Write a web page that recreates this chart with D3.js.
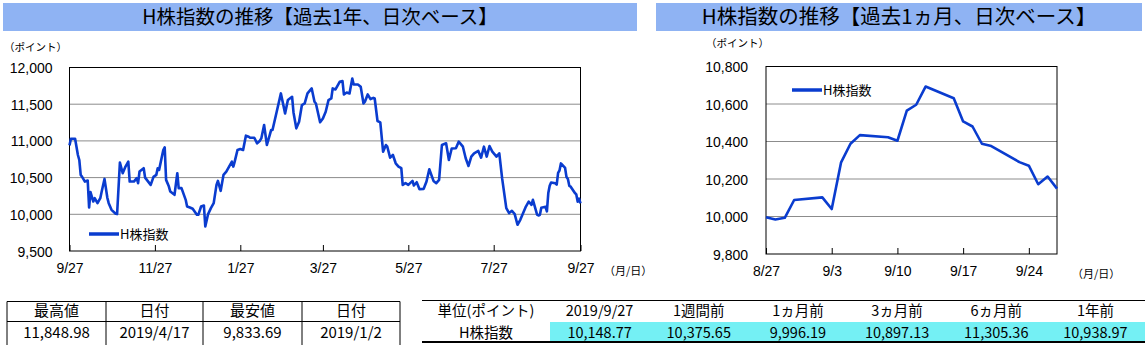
<!DOCTYPE html>
<meta charset="utf-8">
<style>
body { margin:0; background:#fff; }
svg text { font-family: "Liberation Sans", Arial, "Noto Sans CJK JP", sans-serif; fill:#000; }
.jp { font-family: "Noto Sans CJK JP", sans-serif; }
.grid line { stroke:#8c8c8c; stroke-width:1; }
.frame { fill:none; stroke:#000; stroke-width:1; }
.series { fill:none; stroke:#0a3ccf; stroke-width:2.6; stroke-linejoin:round; }
</style>
<body>
<div id="chart"></div>
<script src="https://cdn.jsdelivr.net/npm/d3@7"></script>
<script>

// ---- data ----
var yearTitle = "H株指数の推移【過去1年、日次ベース】"
var monthTitle = "H株指数の推移【過去1ヵ月、日次ベース】"
var seriesName = "H株指数"

var yearSeries = [
  ["2018-09-27",10939],["2018-09-28",11030],["2018-10-01",11030],["2018-10-03",10808],["2018-10-04",10740],
  ["2018-10-05",10537],["2018-10-06",10510],["2018-10-08",10446],["2018-10-10",10460],["2018-10-11",10092],
  ["2018-10-12",10302],["2018-10-14",10174],["2018-10-15",10220],["2018-10-17",10152],["2018-10-19",10220],
  ["2018-10-20",10310],["2018-10-22",10482],["2018-10-24",10228],["2018-10-25",10152],["2018-10-27",10061],
  ["2018-10-30",10007],["2018-10-31",10003],["2018-11-02",10704],["2018-11-04",10560],["2018-11-06",10650],
  ["2018-11-08",10718],["2018-11-09",10446],["2018-11-12",10446],["2018-11-14",10492],["2018-11-15",10424],
  ["2018-11-16",10582],["2018-11-19",10628],["2018-11-20",10500],["2018-11-24",10401],["2018-11-26",10510],
  ["2018-11-28",10537],["2018-11-29",10628],["2018-11-30",10605],["2018-12-03",10876],["2018-12-04",10913],
  ["2018-12-05",10469],["2018-12-07",10378],["2018-12-08",10310],["2018-12-11",10265],["2018-12-13",10560],
  ["2018-12-14",10356],["2018-12-16",10356],["2018-12-19",10197],["2018-12-20",10106],["2018-12-22",10092],
  ["2018-12-24",10075],["2018-12-27",9993],["2018-12-28",9993],["2018-12-30",10106],["2019-01-01",10120],
  ["2019-01-02",9834],["2019-01-04",10003],["2019-01-06",10084],["2019-01-08",10152],["2019-01-10",10401],
  ["2019-01-11",10455],["2019-01-13",10320],["2019-01-15",10537],["2019-01-17",10582],["2019-01-19",10650],
  ["2019-01-21",10718],["2019-01-22",10650],["2019-01-23",10718],["2019-01-25",10876],["2019-01-27",10890],
  ["2019-01-29",10876],["2019-01-31",11071],["2019-02-02",11057],["2019-02-03",11043],["2019-02-06",11043],
  ["2019-02-08",10967],["2019-02-10",11003],["2019-02-11",11034],["2019-02-13",11216],["2019-02-14",11080],
  ["2019-02-15",10944],["2019-02-17",11080],["2019-02-18",11148],["2019-02-19",11148],["2019-02-22",11397],
  ["2019-02-25",11647],["2019-02-28",11375],["2019-03-02",11556],["2019-03-05",11601],["2019-03-06",11388],
  ["2019-03-08",11171],["2019-03-10",11262],["2019-03-12",11488],["2019-03-14",11510],["2019-03-16",11647],
  ["2019-03-19",11715],["2019-03-21",11533],["2019-03-22",11510],["2019-03-25",11253],["2019-03-27",11305],
  ["2019-03-29",11397],["2019-03-31",11556],["2019-04-02",11578],["2019-04-03",11715],["2019-04-05",11701],
  ["2019-04-08",11805],["2019-04-10",11815],["2019-04-11",11633],["2019-04-13",11660],["2019-04-15",11646],
  ["2019-04-17",11849],["2019-04-18",11768],["2019-04-21",11768],["2019-04-23",11737],["2019-04-25",11510],
  ["2019-04-26",11533],["2019-04-28",11633],["2019-04-30",11570],["2019-05-02",11587],["2019-05-03",11578],
  ["2019-05-05",11271],["2019-05-07",11253],["2019-05-09",10853],["2019-05-11",10944],["2019-05-12",10921],
  ["2019-05-14",10772],["2019-05-16",10808],["2019-05-18",10695],["2019-05-20",10650],["2019-05-22",10628],
  ["2019-05-23",10401],["2019-05-25",10424],["2019-05-27",10401],["2019-05-30",10455],["2019-05-31",10392],
  ["2019-06-02",10437],["2019-06-04",10342],["2019-06-07",10347],["2019-06-09",10446],["2019-06-11",10614],
  ["2019-06-14",10455],["2019-06-16",10424],["2019-06-18",10469],["2019-06-20",10944],["2019-06-23",10967],
  ["2019-06-25",10740],["2019-06-27",10897],["2019-06-30",10899],["2019-07-02",10989],["2019-07-05",10921],
  ["2019-07-07",10763],["2019-07-09",10659],["2019-07-11",10786],["2019-07-13",10831],["2019-07-16",10863],
  ["2019-07-18",10772],["2019-07-20",10921],["2019-07-22",10786],["2019-07-24",10930],["2019-07-26",10853],
  ["2019-07-29",10786],["2019-07-31",10831],["2019-08-02",10492],["2019-08-05",10084],["2019-08-07",10016],
  ["2019-08-09",10048],["2019-08-11",10003],["2019-08-13",9857],["2019-08-15",9925],["2019-08-19",10106],
  ["2019-08-21",10174],["2019-08-23",10129],["2019-08-24",10197],["2019-08-27",9996],["2019-08-28",9984],
  ["2019-08-29",9993],["2019-08-30",10088],["2019-09-02",10102],["2019-09-03",10040],["2019-09-04",10289],
  ["2019-09-05",10388],["2019-09-06",10434],["2019-09-09",10423],["2019-09-10",10404],["2019-09-11",10565],
  ["2019-09-12",10596],["2019-09-13",10693],["2019-09-16",10631],["2019-09-17",10507],["2019-09-18",10480],
  ["2019-09-19",10388],["2019-09-20",10376],["2019-09-23",10290],["2019-09-24",10271],["2019-09-25",10172],
  ["2019-09-26",10213],["2019-09-27",10149]
]

var monthDates = ["2019-08-27","2019-08-28","2019-08-29","2019-08-30","2019-09-02","2019-09-03","2019-09-04",
  "2019-09-05","2019-09-06","2019-09-09","2019-09-10","2019-09-11","2019-09-12","2019-09-13","2019-09-16",
  "2019-09-17","2019-09-18","2019-09-19","2019-09-20","2019-09-23","2019-09-24","2019-09-25","2019-09-26","2019-09-27"]
var monthValues = [9996.19,9984,9993,10088,10102,10040,10289,10388,10434,10423,10404,10565,10596,10693,10631,
  10507,10480,10388,10375.65,10290,10271,10172,10213,10148.77]

var yearTicks = ["2018-09-27","2018-11-27","2019-01-27","2019-03-27","2019-05-27","2019-07-27","2019-09-27"]
var monthTicks = ["2019-08-27","2019-09-03","2019-09-10","2019-09-17","2019-09-24"]
var yearYTicks = [9500,10000,10500,11000,11500,12000]
var monthYTicks = [9800,10000,10200,10400,10600,10800]

var hiloHeader = ["最高値","日付","最安値","日付"]
var hiloRow = ["11,848.98","2019/4/17","9,833.69","2019/1/2"]
var changeHeader = ["単位(ポイント)","2019/9/27","1週間前","1ヵ月前","3ヵ月前","6ヵ月前","1年前"]
var changeRow = ["H株指数","10,148.77","10,375.65","9,996.19","10,897.13","11,305.36","10,938.97"]

// ---- drawing ----
var W = 1145, H = 345
var parse = d3.timeParse("%Y-%m-%d")
var fmtDay = d3.timeFormat("%-m/%-d")

var svg = d3.select("#chart").append("svg")
  .attr("width", W).attr("height", H)

function titleBand(x0, x1, text, size) {
  svg.append("rect").attr("x", x0).attr("y", 3).attr("width", x1 - x0).attr("height", 28)
    .attr("fill", "#8fb3f3")
  svg.append("text").attr("class", "jp")
    .attr("x", (x0 + x1) / 2).attr("y", 24)
    .attr("text-anchor", "middle").attr("font-size", size)
    .text(text)
}

function lineChart(o) {
  var x = d3.scaleTime().domain(o.xDomain).range([o.left, o.right])
  var y = d3.scaleLinear().domain(o.yDomain).range([o.bottom, o.top])
  var g = svg.append("g")

  g.append("g").attr("class", "grid")
    .selectAll("line").data(o.yTicks.slice(1, -1)).enter().append("line")
    .attr("x1", o.left).attr("x2", o.right)
    .attr("y1", function(d){ return y(d) }).attr("y2", function(d){ return y(d) })

  var yAxis = d3.axisLeft(y).tickValues(o.yTicks).tickFormat(d3.format(",")).tickSize(0).tickPadding(o.yPad)
  g.append("g").attr("transform", "translate(" + o.left + ",0)").call(yAxis)
    .call(function(s){ s.select(".domain").remove() })
    .selectAll("text").attr("font-size", 14).attr("dy", "0.36em")

  var xAxis = d3.axisBottom(x).tickValues(o.xTicks.map(parse)).tickFormat(fmtDay)
    .tickSize(-6).tickPadding(12)
  g.append("g").attr("transform", "translate(0," + o.bottom + ")").call(xAxis)
    .call(function(s){
      s.select(".domain").remove()
      s.selectAll("line").attr("stroke", "#000")
    })
    .selectAll("text").attr("font-size", 14)

  g.append("rect").attr("class", "frame")
    .attr("x", o.left).attr("y", o.top).attr("width", o.right - o.left).attr("height", o.bottom - o.top)

  var line = d3.line().x(function(d){ return x(d.date) }).y(function(d){ return y(d.value) })
  g.append("path").datum(o.data).attr("class", "series").attr("d", line)

  // unit labels
  g.append("text").attr("class", "jp").attr("x", o.unitX).attr("y", o.unitY)
    .attr("font-size", 10.5).text("（ポイント）")
  g.append("text").attr("class", "jp").attr("x", o.dateX).attr("y", o.bottom + 24)
    .attr("font-size", 11).text("（月/日）")

  // legend
  g.append("line").attr("x1", o.legX).attr("x2", o.legX + 30)
    .attr("y1", o.legY).attr("y2", o.legY)
    .attr("stroke", "#0a3ccf").attr("stroke-width", 3.5)
  g.append("text").attr("class", "jp").attr("x", o.legX + 31).attr("y", o.legY + 5)
    .attr("font-size", 13).text(seriesName)
}

titleBand(3, 637, yearTitle, 19.5)
titleBand(656, 1142, monthTitle, 20.5)

lineChart({
  data: yearSeries.map(function(d){ return {date: parse(d[0]), value: d[1]} }),
  xDomain: [parse(yearTicks[0]), parse(yearTicks[yearTicks.length - 1])],
  yDomain: [9500, 12000], xTicks: yearTicks, yTicks: yearYTicks,
  left: 69.5, right: 580.5, top: 67.5, bottom: 251, yPad: 17,
  unitX: 4, unitY: 51, dateX: 604, legX: 89, legY: 234
})

lineChart({
  data: monthDates.map(function(d, i){ return {date: parse(d), value: monthValues[i]} }),
  xDomain: [parse("2019-08-27"), parse("2019-09-27")],
  yDomain: [9800, 10800], xTicks: monthTicks, yTicks: monthYTicks,
  left: 766, right: 1057, top: 66.5, bottom: 254, yPad: 18,
  unitX: 706, unitY: 47, dateX: 1072, legX: 792, legY: 90
})

// ---- tables ----
function cellText(x, y, w, txt, size) {
  svg.append("text").attr("class", "jp")
    .attr("x", x + w / 2).attr("y", y).attr("text-anchor", "middle")
    .attr("font-size", size).text(txt)
}

// high / low table
var hlCols = [7, 106, 203, 302, 400]
var hl = svg.append("g")
hl.selectAll("line.v").data(hlCols).enter().append("line")
  .attr("x1", function(d){ return d }).attr("x2", function(d){ return d })
  .attr("y1", 301.5).attr("y2", 345).attr("stroke", "#000")
;[301.5, 321.5].forEach(function(yy){
  hl.append("line").attr("x1", 7).attr("x2", 400).attr("y1", yy).attr("y2", yy).attr("stroke", "#000")
})
hiloHeader.forEach(function(t, i){ cellText(hlCols[i], 316, hlCols[i+1] - hlCols[i], t, 15) })
hiloRow.forEach(function(t, i){ cellText(hlCols[i], 338, hlCols[i+1] - hlCols[i], t, 15) })

// change table
var chLeft = 422, chLab = 550, chRight = 1145
var chW = (chRight - chLab) / 6
svg.append("rect").attr("x", chLab).attr("y", 322).attr("width", chRight - chLab).attr("height", 19)
  .attr("fill", "#74f0f4")
svg.append("line").attr("x1", chLeft).attr("x2", chRight).attr("y1", 300.5).attr("y2", 300.5)
  .attr("stroke", "#000").attr("stroke-width", 1.2)
svg.append("line").attr("x1", chLeft).attr("x2", chRight).attr("y1", 342).attr("y2", 342)
  .attr("stroke", "#000").attr("stroke-width", 2)
changeHeader.forEach(function(t, i){
  var x0 = i == 0 ? chLeft : chLab + (i - 1) * chW
  var w = i == 0 ? chLab - chLeft : chW
  cellText(x0, 316, w, t, 14.5)
})
changeRow.forEach(function(t, i){
  var x0 = i == 0 ? chLeft : chLab + (i - 1) * chW
  var w = i == 0 ? chLab - chLeft : chW
  cellText(x0, 337.5, w, t, 14.5)
})

</script>
